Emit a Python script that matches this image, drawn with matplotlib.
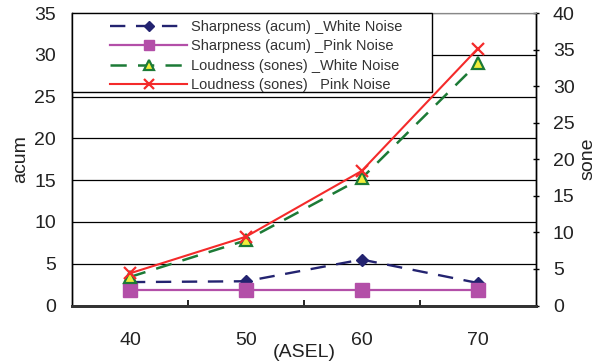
import matplotlib
matplotlib.use("Agg")
import matplotlib.pyplot as plt
from matplotlib.patches import Rectangle
from matplotlib.ticker import FixedLocator

plt.rcParams['font.family'] = ['Liberation Sans', 'DejaVu Sans']

# ---- data ----
asel_labels = ['40', '50', '60', '70']
sharp_white = [2.8, 2.9, 5.5, 2.7]       # acum
sharp_pink = [1.9, 1.9, 1.9, 1.9]        # acum
loud_white = [3.9, 8.9, 17.4, 33.1]      # sones
loud_pink = [4.4, 9.4, 18.4, 35.1]       # sones
left_ticks = [0, 5, 10, 15, 20, 25, 30, 35]
right_ticks = [0, 5, 10, 15, 20, 25, 30, 35, 40]
series_names = ['Sharpness (acum) _White Noise',
                'Sharpness (acum) _Pink Noise',
                'Loudness (sones) _White Noise',
                'Loudness (sones)   Pink Noise']

W, H = 599, 362
fig = plt.figure(figsize=(W / 100, H / 100), dpi=100)
ax = fig.add_axes([72 / W, 1 - 305.5 / H, (535.5 - 72) / W, (305.5 - 13) / H])
ax2 = ax.twinx()

x = list(range(len(asel_labels)))
navy = '#232370'
pink = '#B34FA8'
green = '#1C7A36'
red = '#F42A2A'
tcol = '#222222'

l1, = ax.plot(x, sharp_white, color=navy, lw=1.7, linestyle=(0, (6.5, 4.5)),
              marker='D', ms=6, mfc=navy, mec=navy, zorder=3)
l2, = ax.plot(x, sharp_pink, color=pink, lw=1.6, marker='s', ms=9.5,
              mfc=pink, mec=pink, zorder=3)
l3, = ax2.plot(x, loud_white, color=green, lw=1.8, linestyle=(0, (6.5, 4.5)),
               marker='^', ms=8.5, mfc='#F2EE3A', mec=green, mew=1.6, zorder=3)
l4, = ax2.plot(x, loud_pink, color=red, lw=1.5, marker='x', ms=9, mew=1.6,
               zorder=4)

ax.set_xlim(-0.5, 3.5)
ax.set_ylim(0, 35)
ax2.set_ylim(0, 40)

ax.set_xticks(x)
ax.set_xticklabels(asel_labels)
ax.xaxis.set_minor_locator(FixedLocator([0.5, 1.5, 2.5]))
ax.tick_params(axis='x', which='major', length=0, pad=19, labelsize=14, labelcolor=tcol)
ax.tick_params(axis='x', which='minor', direction='in', length=4, width=1.2, color='black')

ax.set_yticks(left_ticks)
ax.tick_params(axis='y', which='major', length=0, pad=11.5, labelsize=14, labelcolor=tcol)
ax2.set_yticks(right_ticks)
ax2.tick_params(axis='y', direction='inout', length=4, width=1, pad=10.5,
                labelsize=14, labelcolor=tcol)

ax.yaxis.grid(True, color='black', lw=0.9)
ax.set_axisbelow(True)

for s in ['left', 'right']:
    ax.spines[s].set_color('black'); ax.spines[s].set_linewidth(1.0)
    ax2.spines[s].set_color('black'); ax2.spines[s].set_linewidth(1.0)
ax.spines['bottom'].set_color('#333333'); ax.spines['bottom'].set_linewidth(2)
ax2.spines['bottom'].set_color('#333333'); ax2.spines['bottom'].set_linewidth(2)
ax.spines['top'].set_color('#888888'); ax2.spines['top'].set_color('#888888')

ax.set_xlabel('(ASEL)', fontsize=14, color=tcol)
ax.xaxis.set_label_coords(0.5, -0.133)
ax.set_ylabel('acum', fontsize=14, color=tcol)
ax.yaxis.set_label_coords(-0.093, 0.5)
ax2.set_ylabel('sone', fontsize=14, color=tcol)
ax2.yaxis.set_label_coords(1.094, 0.5)

# legend box
box = Rectangle((72 / W, 1 - 92 / H), 360 / W, 79 / H, transform=fig.transFigure,
                facecolor='white', edgecolor='black', lw=1.0, zorder=6, clip_on=False)
ax2.add_artist(box)
leg = ax2.legend([l1, l2, l3, l4], series_names, loc='upper left',
                 bbox_to_anchor=(110 / W, 1 - 20 / H), bbox_transform=fig.transFigure,
                 frameon=False, borderpad=0, borderaxespad=0, handlelength=5.3,
                 handletextpad=0.25, labelspacing=0.37, fontsize=10.5, numpoints=1,
                 markerscale=0.8)
leg.set_zorder(7)
for t in leg.get_texts():
    t.set_color('#333333')

fig.savefig('out.png', dpi=100)
